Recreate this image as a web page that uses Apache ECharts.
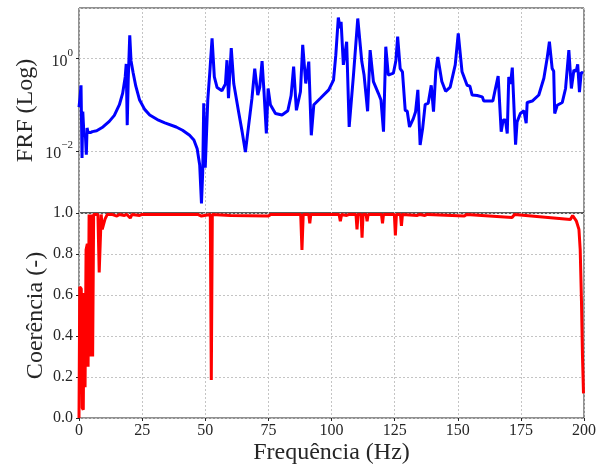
<!DOCTYPE html>
<html>
<head>
<meta charset="utf-8">
<script src="https://cdn.jsdelivr.net/npm/echarts@6/dist/echarts.min.js"></script>
<style>
html,body{margin:0;padding:0;background:#fff;}
#chart{width:608px;height:470px;}
</style>
</head>
<body>
<div id="chart"></div>
<script>
// ---- Data ----
const frfFreq = [
  0.0,0.4,0.8,1.2,1.5,2.0,2.5,2.9,3.2,3.6,4.5,5.3,7.0,9.5,12.0,14.0,16.0,17.3,18.3,18.7,19.1,19.5,20.1,20.6,21.4,22.5,24.0,26.0,28.0,31.0,34.0,38.5,41.0,43.8,45.5,46.8,47.8,48.5,49.0,49.4,50.0,
  51.0,51.8,52.7,53.6,54.7,56.6,58.0,58.6,59.2,60.3,61.3,63.2,64.6,65.9,67.2,68.5,69.6,70.8,71.6,72.5,73.3,74.2,74.9,75.8,77.8,80.4,82.7,84.0,85.0,86.1,87.7,88.6,89.8,91.0,92.0,93.0,95.6,98.9,
  100.8,101.7,102.7,103.4,103.8,104.7,106.0,107.0,108.7,110.4,112.0,112.9,114.3,115.3,116.6,118.6,119.6,120.6,121.5,122.5,124.5,125.5,126.2,127.2,128.1,129.2,130.0,130.9,132.4,133.3,134.2,135.1,136.1,137.1,138.3,139.5,140.4,141.3,142.1,143.7,145.2,147.0,149.0,150.2,
  151.7,153.7,154.8,155.7,157.7,159.7,160.3,163.9,164.7,166.0,167.2,168.0,168.9,169.6,170.2,170.9,171.6,172.9,173.5,174.8,176.2,177.1,177.5,179.5,182.1,184.1,185.4,186.3,187.4,188.0,188.4,189.4,191.4,192.7,194.0,195.0,196.0,196.9,197.5,198.2,198.9,199.7
];
const frfValue = [
  0.0891,0.141,0.263,0.00708,0.0708,0.0204,0.0240,0.00832,0.0316,0.0251,0.0251,0.0263,0.0275,0.0331,0.0437,0.0589,0.100,0.178,0.398,0.759,0.0363,0.355,3.16,0.891,0.501,0.251,0.126,0.0794,0.0603,0.0479,0.0407,0.0331,0.0282,0.0219,0.0174,0.0112,0.00501,0.000741,0.00355,0.107,0.00437,
  0.126,0.501,2.69,0.398,0.234,0.200,0.282,0.912,0.138,1.66,0.282,0.0708,0.0263,0.00955,0.0363,0.138,0.603,0.162,0.240,0.871,0.178,0.0240,0.224,0.100,0.0646,0.0603,0.0741,0.158,0.661,0.0759,0.191,1.95,0.288,0.851,0.0219,0.100,0.138,0.209,
  0.339,1.17,7.59,4.47,6.17,0.724,2.29,0.0331,0.437,7.24,0.851,0.437,0.0724,1.51,0.316,0.174,0.126,0.0263,1.78,0.437,0.479,0.891,2.95,0.603,0.513,0.0759,0.0724,0.0331,0.0501,0.0708,0.209,0.0135,0.0309,0.102,0.107,0.263,0.0708,0.513,1.07,0.316,0.195,0.240,0.724,3.47,
  0.513,0.263,0.251,0.162,0.158,0.148,0.120,0.120,0.195,0.417,0.0263,0.0468,0.0468,0.0240,0.398,0.282,0.631,0.0138,0.0427,0.0646,0.0741,0.0398,0.112,0.120,0.162,0.372,1.00,2.29,0.603,0.525,0.0646,0.0977,0.112,0.224,1.51,0.224,0.562,0.525,0.741,0.186,0.501,0.479
];
const cohFreq = [
  0.0,0.3,0.9,1.3,1.7,2.0,2.4,2.8,3.3,3.6,4.0,4.4,4.9,5.4,5.8,7.5,8.0,8.5,8.8,9.2,9.9,10.3,11.2,13.0,15.0,16.0,18.0,19.0,20.3,21.0,24.0,25.0,
  47.0,48.5,49.2,52.0,52.4,52.8,60.0,75.0,76.0,87.8,88.3,88.8,91.0,91.4,91.8,103.0,103.5,104.0,106.0,107.0,109.7,110.1,110.5,111.7,112.1,112.5,113.7,114.1,114.5,119.8,120.2,120.6,124.9,125.3,125.7,127.3,127.7,128.1,
  134.0,135.0,137.0,138.0,152.6,153.5,171.5,172.5,194.6,195.5,197.0,198.0,198.5,199.0,199.4,199.8
];
const cohValue = [
  0.0,0.64,0.63,0.05,0.04,0.61,0.15,0.82,0.85,0.25,0.993,0.30,0.993,0.30,0.993,0.993,0.71,0.71,0.993,0.92,0.92,0.97,0.993,0.993,0.985,0.993,0.988,0.993,0.975,0.993,0.988,0.993,
  0.993,0.985,0.993,0.993,0.185,0.993,0.988,0.985,0.993,0.993,0.82,0.993,0.993,0.95,0.993,0.993,0.96,0.993,0.988,0.993,0.993,0.92,0.993,0.993,0.88,0.993,0.993,0.96,0.993,0.993,0.95,0.993,0.993,0.89,0.993,0.993,0.937,0.993,
  0.988,0.993,0.988,0.993,0.985,0.993,0.978,0.993,0.968,0.988,0.96,0.92,0.82,0.57,0.30,0.12
];
const xTickStep = 25;
const cohTickStep = 0.2;
const xLabel = 'Frequência (Hz)';
const frfLabel = 'FRF (Log)';
const cohLabel = 'Coerência (-)';

const frfData = frfFreq.map((f, i) => [f, frfValue[i]]);
const cohData = cohFreq.map((f, i) => [f, cohValue[i]]);

const FONT = 'Liberation Serif';
const TXT = '#262626';
const gridLine = { show: true, lineStyle: { color: '#c4c4c4', type: [2, 2], width: 1 } };

const chart = echarts.init(document.getElementById('chart'), null, { renderer: 'canvas' });
chart.setOption({
  animation: false,
  backgroundColor: '#fff',
  grid: [
    { left: 79, right: 24, top: 8, height: 205, show: true, borderColor: '#222', borderWidth: 1, containLabel: false },
    { left: 79, right: 24, top: 213, height: 205, show: true, borderColor: '#222', borderWidth: 1, containLabel: false }
  ],
  xAxis: [
    { type: 'value', gridIndex: 0, min: 0, max: 200, interval: xTickStep,
      axisLine: { show: false }, axisTick: { show: false }, axisLabel: { show: false }, splitLine: gridLine },
    { type: 'value', gridIndex: 1, min: 0, max: 200, interval: xTickStep,
      axisLine: { show: false },
      axisTick: { show: true, length: 3, lineStyle: { color: '#222' } },
      axisLabel: { show: true, margin: 5, fontFamily: FONT, fontSize: 16, color: TXT },
      splitLine: gridLine,
      name: xLabel, nameLocation: 'middle', nameGap: 23, nameMoveOverlap: false,
      nameTextStyle: { fontFamily: FONT, fontSize: 24, color: TXT } }
  ],
  yAxis: [
    { type: 'log', logBase: 100, gridIndex: 0, min: 0.000462, max: 12.2,
      axisLine: { show: false },
      axisTick: { show: true, length: 3, lineStyle: { color: '#222' } },
      splitLine: gridLine,
      axisLabel: { show: true, margin: 6, showMinLabel: false, showMaxLabel: false,
        formatter: function (v) {
          const e = Math.round(Math.log10(v));
          if (Math.abs(Math.log10(v) - e) > 1e-6) return '';
          return '{b|10}{s|' + (e < 0 ? '\u2212' + (-e) : e) + '}';
        },
        rich: {
          b: { fontFamily: FONT, fontSize: 16, color: TXT, verticalAlign: 'bottom', lineHeight: 22 },
          s: { fontFamily: FONT, fontSize: 11, color: TXT, verticalAlign: 'top', lineHeight: 22 }
        } },
      name: frfLabel, nameLocation: 'middle', nameGap: 41, nameMoveOverlap: false,
      nameTextStyle: { fontFamily: FONT, fontSize: 24, color: TXT } },
    { type: 'value', gridIndex: 1, min: 0, max: 1, interval: cohTickStep,
      axisLine: { show: false },
      axisTick: { show: true, length: 3, lineStyle: { color: '#222' } },
      splitLine: gridLine,
      axisLabel: { show: true, margin: 6, fontFamily: FONT, fontSize: 16, color: TXT,
        formatter: v => v.toFixed(1) },
      name: cohLabel, nameLocation: 'middle', nameGap: 31, nameMoveOverlap: false,
      nameTextStyle: { fontFamily: FONT, fontSize: 24, color: TXT } }
  ],
  series: [
    { type: 'line', xAxisIndex: 0, yAxisIndex: 0, data: frfData, showSymbol: false, symbol: 'none',
      lineStyle: { color: '#0000ff', width: 3 }, itemStyle: { color: '#0000ff' }, z: 3 },
    { type: 'line', xAxisIndex: 1, yAxisIndex: 1, data: cohData, showSymbol: false, symbol: 'none',
      lineStyle: { color: '#ff0000', width: 3 }, itemStyle: { color: '#ff0000' }, z: 3 }
  ]
});
</script>
</body>
</html>
